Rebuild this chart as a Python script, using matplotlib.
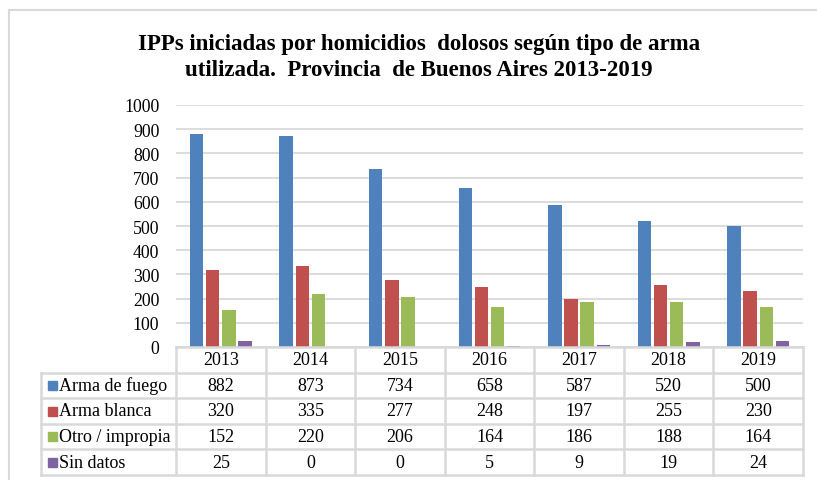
import numpy as np
import matplotlib.pyplot as plt
from matplotlib.patches import Rectangle
from matplotlib.lines import Line2D

years = ["2013", "2014", "2015", "2016", "2017", "2018", "2019"]
series_names = ["Arma de fuego", "Arma blanca", "Otro / impropia", "Sin datos"]
arma_fuego = [882, 873, 734, 658, 587, 520, 500]
arma_blanca = [320, 335, 277, 248, 197, 255, 230]
otro_impropia = [152, 220, 206, 164, 186, 188, 164]
sin_datos = [25, 0, 0, 5, 9, 19, 24]
colors = ["#4F81BD", "#C0504D", "#9BBB59", "#8064A2"]

title = ("IPPs iniciadas por homicidios  dolosos según tipo de arma\n"
         "utilizada.  Provincia  de Buenos Aires 2013-2019")

plt.rcParams['font.family'] = ['Liberation Serif', 'DejaVu Serif']

W, H = 817, 481
fig = plt.figure(figsize=(W / 100, H / 100), dpi=100)

# pixel helpers
def fx(px):
    return px / W

def fy(py):
    return 1 - py / H

# outer light border (only left/top visible)
fig.add_artist(Line2D([fx(8.5), fx(8.5)], [fy(10.5), 0], color="#d9d9d9", lw=1.5))
fig.add_artist(Line2D([fx(8.5), 1], [fy(10.5), fy(10.5)], color="#d9d9d9", lw=1.5))

ax_l, ax_r, ax_t, ax_b = 176, 803, 106, 348
ax = fig.add_axes([fx(ax_l), fy(ax_b), (ax_r - ax_l) / W, (ax_b - ax_t) / H])

data = [arma_fuego, arma_blanca, otro_impropia, sin_datos]
x = np.arange(len(years))
step = 0.18
width = 0.149
for i, (vals, c) in enumerate(zip(data, colors)):
    ax.bar(x + (i - 1.5) * step, vals, width=width, color=c, zorder=3)

ax.set_xlim(-0.5, len(years) - 0.5)
ax.set_ylim(0, 1000)
ax.set_yticks(range(0, 1001, 100))
ax.set_xticks([])
ax.tick_params(axis='y', length=0, pad=12, labelsize=12.8)
ax.grid(axis='y', color="#d9d9d9", lw=1.3, zorder=0)
for s in ax.spines.values():
    s.set_visible(False)

fig.text(0.513, fy(57.5), title, ha='center', va='center', fontsize=16.5,
         fontweight='bold', linespacing=1.32)

# data table below the axes
gcol = "#d9d9d9"
lab_l = 41
col_w = (ax_r - ax_l) / len(years)
rows_y = np.linspace(348, 476, 6)

def hline(py, x0, x1):
    fig.add_artist(Line2D([fx(x0), fx(x1)], [fy(py), fy(py)], color=gcol, lw=1.8))

def vline(px, y0, y1):
    fig.add_artist(Line2D([fx(px), fx(px)], [fy(y0), fy(y1)], color=gcol, lw=1.8))

hline(rows_y[0], ax_l, ax_r)
for py in rows_y[1:]:
    hline(py, lab_l, ax_r)
vline(lab_l, rows_y[1], rows_y[-1])
for j in range(len(years) + 1):
    vline(ax_l + j * col_w, rows_y[0], rows_y[-1])

for j, yr in enumerate(years):
    fig.text(fx(ax_l + (j + 0.5) * col_w), fy((rows_y[0] + rows_y[1]) / 2), yr,
             ha='center', va='center', fontsize=13)

for i, (name, vals, c) in enumerate(zip(series_names, data, colors)):
    cy = (rows_y[i + 1] + rows_y[i + 2]) / 2
    fig.add_artist(Rectangle((fx(48), fy(cy + 4.5)), 9 / W, 9 / H, color=c))
    fig.text(fx(59), fy(cy), name, ha='left', va='center', fontsize=13)
    for j, v in enumerate(vals):
        fig.text(fx(ax_l + (j + 0.5) * col_w), fy(cy), str(v),
                 ha='center', va='center', fontsize=13)

plt.savefig("out.png", dpi=100)
